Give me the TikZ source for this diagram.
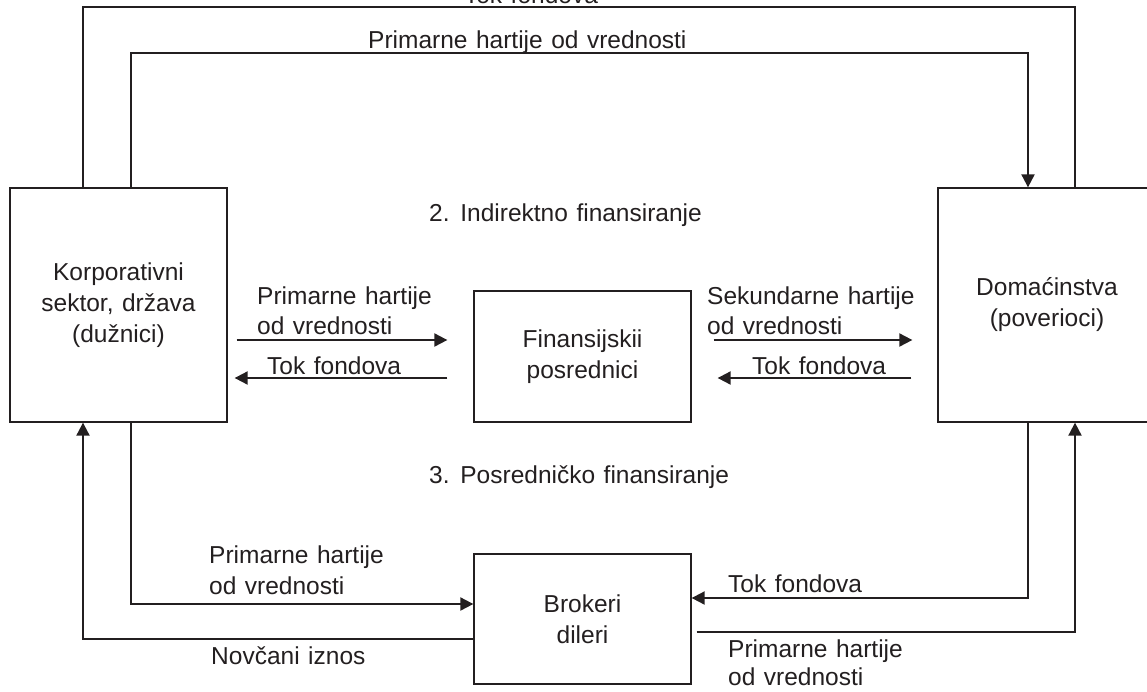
\documentclass[tikz,border=0pt]{standalone}
\usepackage{fontspec}
\setmainfont{Liberation Sans}[WordSpace=1.25]
\usetikzlibrary{arrows.meta}
\definecolor{ink}{HTML}{231F20}
\begin{document}
\begin{tikzpicture}[x=1pt,y=-1pt,
  every node/.style={font=\fontsize{24.5}{31}\selectfont, text=ink},
  box/.style={draw=ink, line width=1.3pt, inner sep=0pt, align=center},
  lbl/.style={anchor=base west, inner sep=0pt},
  plain/.style={draw=ink, line width=1.4pt},
  arr/.style={draw=ink, line width=2pt, -{Triangle[length=13pt,width=13pt]}},
]
\useasboundingbox (0,0) rectangle (1147,691);
% boxes
\node[box, minimum width=217pt, minimum height=234pt] (K) at (118.5,305) {Korporativni\\sektor, država\\(dužnici)};
\node[box, minimum width=218pt, minimum height=234pt] (D) at (1047,305) {Domaćinstva\\(poverioci)};
\node[box, minimum width=217pt, minimum height=131pt] (F) at (582.5,356.5) {Finansijskii\\posrednici};
\node[box, minimum width=217pt, minimum height=130pt] (B) at (582.5,619) {Brokeri\\dileri};
% corner coordinates
\coordinate (t1) at (83,7);
\coordinate (t2) at (1075,7);
\coordinate (t3) at (131,53);
\coordinate (t4) at (1028,53);
\coordinate (b1) at (131,604);
\coordinate (b2) at (83,639);
\coordinate (b3) at (1028,598);
\coordinate (b4) at (1075,632);
% top connectors
\draw[plain] (K.north -| t1) -- (t1) -- (t2) -- (D.north -| t2);
\draw[arr] (K.north -| t3) -- (t3) -- (t4) -- (D.north -| t4);
% middle connectors
\draw[arr, shorten <=9pt, shorten >=26pt] ([yshift=-35pt]K.east) -- ([yshift=-35pt]K.east -| F.west);
\draw[arr, shorten <=26pt, shorten >=7pt] ([yshift=-73pt]K.east -| F.west) -- ([yshift=-73pt]K.east);
\draw[arr, shorten <=22pt, shorten >=25pt] ([yshift=-35pt]D.west -| F.east) -- ([yshift=-35pt]D.west);
\draw[arr, shorten <=26pt, shorten >=26pt] ([yshift=-73pt]D.west) -- ([yshift=-73pt]D.west -| F.east);
% bottom connectors
\draw[arr] (K.south -| b1) -- (b1) -- (b1 -| B.west);
\draw[arr] (b2 -| B.west) -- (b2) -- (K.south -| b2);
\draw[arr] (D.south -| b3) -- (b3) -- (b3 -| B.east);
\draw[arr, shorten <=5pt] (b4 -| B.east) -- (b4) -- (D.south -| b4);
% labels
\node[anchor=base, inner sep=0pt] (l1) at (531,3) {Tok fondova};
\node[lbl] (l2) at (368,48) {Primarne hartije od vrednosti};
\node[lbl] (l3) at (429,221) {2. Indirektno finansiranje};
\node[lbl] (l4) at (429,483) {3. Posredničko finansiranje};
\node[lbl] (l5a) at (257,304) {Primarne hartije};
\node[lbl] (l5b) at (257,334) {od vrednosti};
\node[lbl] (l6) at (267,374) {Tok fondova};
\node[lbl] (l7a) at (707,304) {Sekundarne hartije};
\node[lbl] (l7b) at (707,334) {od vrednosti};
\node[lbl] (l8) at (752,374) {Tok fondova};
\node[lbl] (l9a) at (209,563) {Primarne hartije};
\node[lbl] (l9b) at (209,594) {od vrednosti};
\node[lbl] (l10) at (211,664) {Novčani iznos};
\node[lbl] (l11) at (728,592) {Tok fondova};
\node[lbl] (l12a) at (728,657) {Primarne hartije};
\node[lbl] (l12b) at (728,685) {od vrednosti};
\end{tikzpicture}
\end{document}
